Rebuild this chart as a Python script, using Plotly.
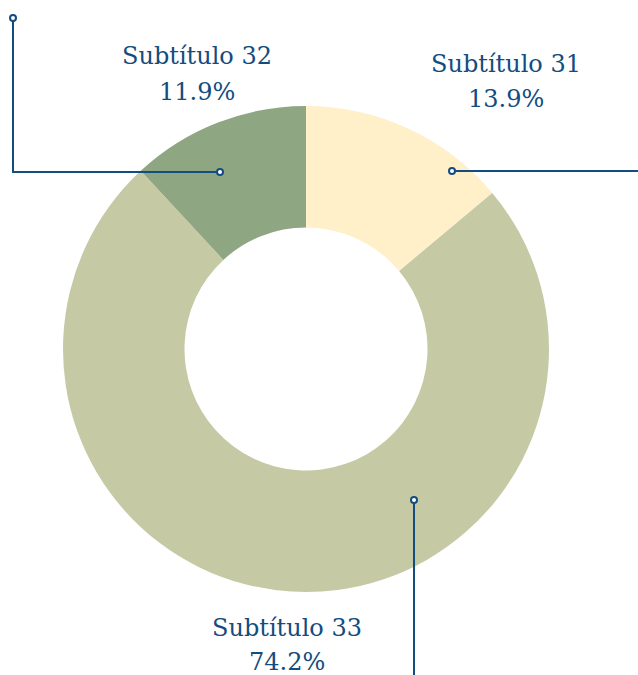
import plotly.graph_objects as go

# Data
labels = ["Subtítulo 31", "Subtítulo 33", "Subtítulo 32"]
values = [13.9, 74.2, 11.9]
colors = ["#FFF0C9", "#C5CAA5", "#8FA682"]

W, H = 638, 675
TEXT = "#134C7E"
FONT = "DejaVu Serif"

# donut geometry (pixels)
cx, cy, R = 306, 349, 243

fig = go.Figure()
fig.add_trace(go.Pie(
    labels=labels, values=values, sort=False, direction="clockwise", rotation=0,
    hole=0.5, marker=dict(colors=colors, line=dict(width=0)),
    textinfo="none", hoverinfo="label+percent", showlegend=False,
    domain=dict(x=[(cx - R) / W, (cx + R) / W], y=[1 - (cy + R) / H, 1 - (cy - R) / H]),
))

# leader lines (pixel coordinates on a hidden overlay axis), drawn above the pie
leaders = [
    dict(pts=[(13, 18), (13, 172), (220, 172)], ends=[(13, 18), (220, 172)]),
    dict(pts=[(452, 171), (650, 171)], ends=[(452, 171)]),
    dict(pts=[(414, 500), (414, 690)], ends=[(414, 500)]),
]
for ld in leaders:
    path = "M " + " L ".join(f"{x},{y}" for x, y in ld["pts"])
    fig.add_shape(type="path", path=path, xref="x", yref="y", layer="above",
                  line=dict(color=TEXT, width=2))
    for x, y in ld["ends"]:
        fig.add_shape(type="circle", xref="x", yref="y", layer="above",
                      x0=x - 3, x1=x + 3, y0=y - 3, y1=y + 3,
                      fillcolor="white", line=dict(color=TEXT, width=2))

title_pos = {"Subtítulo 32": (197, 56, 92), "Subtítulo 31": (506, 64, 99), "Subtítulo 33": (287, 628, 662)}
for lab, val in zip(labels, values):
    x, y1, y2 = title_pos[lab]
    fig.add_annotation(x=x, y=y1, xref="x", yref="y", showarrow=False, text=lab,
                       font=dict(family=FONT, size=24, color=TEXT))
    fig.add_annotation(x=x, y=y2, xref="x", yref="y", showarrow=False, text=f"{val}%",
                       font=dict(family=FONT, size=24, color=TEXT))

fig.update_layout(
    width=W, height=H, margin=dict(l=0, r=0, t=0, b=0),
    paper_bgcolor="white", plot_bgcolor="rgba(0,0,0,0)",
    xaxis=dict(range=[0, W], visible=False, fixedrange=True),
    yaxis=dict(range=[H, 0], visible=False, fixedrange=True),
)
fig.write_html("out.html", config={"displayModeBar": False},
               post_script="document.body.style.margin='0';document.body.style.padding='0';")
